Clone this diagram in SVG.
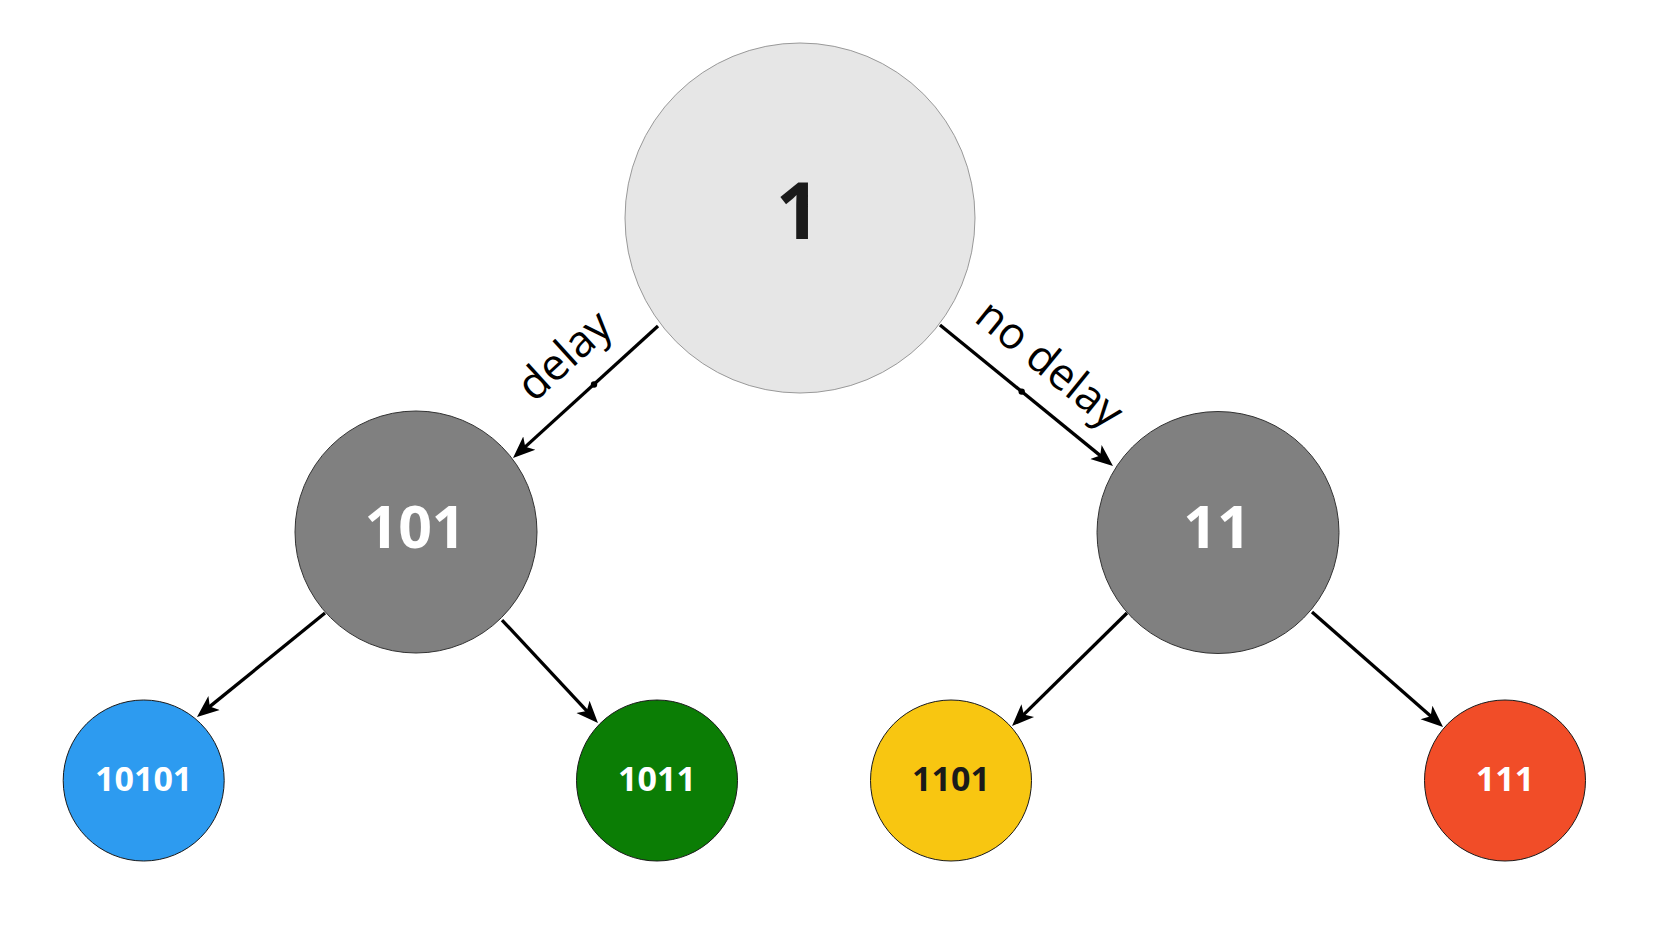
<svg xmlns="http://www.w3.org/2000/svg" width="1661" height="940" viewBox="0 0 1661 940">
<defs>
<marker id="arr" markerUnits="userSpaceOnUse" markerWidth="22" markerHeight="22" viewBox="0 0 22 22" refX="10" refY="11" orient="auto">
<path d="M0,2 L22,11 L0,20 L5.5,11 Z" fill="#000"/>
</marker>
</defs>
<style>
.edge{stroke:#000;stroke-width:3.3;fill:none;marker-end:url(#arr)}
.t{font-family:"Open Sans","Noto Sans","DejaVu Sans",sans-serif;font-weight:bold;text-anchor:middle}
.lbl{font-family:"Open Sans","Noto Sans","DejaVu Sans",sans-serif;font-size:44px;fill:#000;text-anchor:middle;dominant-baseline:central}
.w{fill:#fff}
.k{fill:#1a1a1a}
.big{font-size:78px}
.mid{font-size:59px}
.sm{font-size:34px}
</style>
<rect width="1661" height="940" fill="#fff"/>
<g id="connectors">
<line class="edge" x1="658" y1="326" x2="521.9" y2="449.9"/>
<line class="edge" x1="940" y1="325" x2="1103.7" y2="458.4"/>
<line class="edge" x1="325" y1="613" x2="206.3" y2="709.4"/>
<line class="edge" x1="502" y1="620" x2="589.8" y2="714.2"/>
<line class="edge" x1="1127" y1="613" x2="1020.6" y2="717.6"/>
<line class="edge" x1="1312" y1="612" x2="1434" y2="719.1"/>
<circle cx="594" cy="384.5" r="3.2" fill="#000"/>
<circle cx="1021.7" cy="391.6" r="3.2" fill="#000"/>
<text class="lbl" transform="translate(563,354) rotate(-42.3)">delay</text>
<text class="lbl" transform="translate(1051,362) rotate(39.2)">no delay</text>
</g>
<g id="n1">
<circle cx="800" cy="218" r="175" fill="#e6e6e6" stroke="#999" stroke-width="1"/>
<text class="t big k" x="798" y="239">1</text>
</g>
<g id="n101">
<circle cx="416" cy="532" r="121" fill="#808080" stroke="#333" stroke-width="1"/>
<text class="t mid w" x="415" y="548">101</text>
</g>
<g id="n11">
<circle cx="1218" cy="532.5" r="121" fill="#808080" stroke="#333" stroke-width="1"/>
<text class="t mid w" x="1217" y="548">11</text>
</g>
<g id="n10101">
<circle cx="143.7" cy="780.5" r="80.5" fill="#2d9bf0" stroke="#1a1a1a" stroke-width="1"/>
<text class="t sm w" x="143.7" y="791">10101</text>
</g>
<g id="n1011">
<circle cx="657" cy="780.5" r="80.5" fill="#0b7d05" stroke="#1a1a1a" stroke-width="1"/>
<text class="t sm w" x="657" y="791">1011</text>
</g>
<g id="n1101">
<circle cx="951" cy="780.5" r="80.5" fill="#f8c611" stroke="#1a1a1a" stroke-width="1"/>
<text class="t sm k" x="951" y="791">1101</text>
</g>
<g id="n111">
<circle cx="1505" cy="780.5" r="80.5" fill="#f14d28" stroke="#1a1a1a" stroke-width="1"/>
<text class="t sm w" x="1505" y="791">111</text>
</g>
</svg>
